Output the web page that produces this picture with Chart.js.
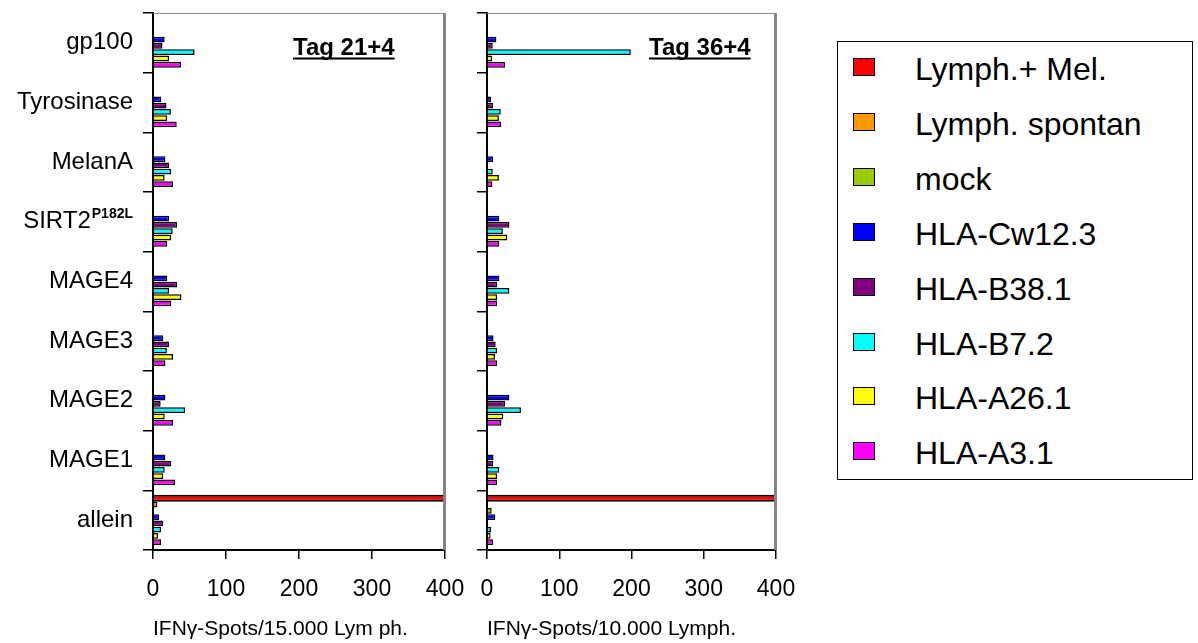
<!DOCTYPE html>
<html>
<head>
<meta charset="utf-8">
<title>IFN-gamma ELISpot</title>
<script src="https://cdn.jsdelivr.net/npm/chart.js@4.4.1/dist/chart.umd.min.js"></script>
<style>
  html, body { margin: 0; padding: 0; background: #fff; }
  body { width: 1198px; height: 643px; position: relative; overflow: hidden;
         font-family: "Liberation Sans", Arial, sans-serif; color: #000; }
  canvas { position: absolute; top: 0; }
  #left { left: 0; }
  #right { left: 466px; }
  #legend { position: absolute; left: 837px; top: 41px; width: 356px; height: 439px;
            border: 1px solid #000; box-sizing: border-box; }
  .sw { position: absolute; left: 15px; width: 22px; height: 18px;
        border: 1.5px solid #000; box-sizing: border-box; }
  .lbl { position: absolute; left: 77px; font-size: 32px; line-height: 36px; white-space: nowrap; }
</style>
</head>
<body>
<canvas id="left" width="466" height="643"></canvas>
<canvas id="right" width="330" height="643"></canvas>
<div id="legend"></div>
<script>
// Antigen categories, top to bottom
const categories = ['gp100', 'Tyrosinase', 'MelanA', 'SIRT2', 'MAGE4', 'MAGE3', 'MAGE2', 'MAGE1', 'allein'];
const categorySup = ['', '', '', 'P182L', '', '', '', '', ''];

// Series (effector / target combinations)
const seriesNames = ['Lymph.+ Mel.', 'Lymph. spontan', 'mock', 'HLA-Cw12.3', 'HLA-B38.1', 'HLA-B7.2', 'HLA-A26.1', 'HLA-A3.1'];
const seriesColors = ['#FF0000', '#FF9900', '#99CC00', '#0000FF', '#800080', '#00FFFF', '#FFFF00', '#FF00FF'];

// Value axis
const xTicks = [0, 100, 200, 300, 400];

// Day 21+4: IFN-gamma spots per 15.000 lymphocytes
const d21LymphMel  = [null, null, null, null, null, null, null, null, 450];
const d21LymphSpon = [null, null, null, null, null, null, null, null, 6];
const d21Mock      = [null, null, null, null, null, null, null, null, 0];
const d21Cw123     = [16, 11, 17, 22, 19.5, 14, 17, 17, 8.5];
const d21B381      = [13, 18.5, 22, 33, 33, 22, 10.5, 25, 14];
const d21B72       = [57, 24.5, 25, 27, 22, 19, 44, 16, 11];
const d21A261      = [22, 19.5, 16, 25, 39, 27.5, 16, 14, 7];
const d21A31       = [38.5, 32.5, 27.5, 19.5, 25, 17, 27.5, 30.5, 11];

// Day 36+4: IFN-gamma spots per 10.000 lymphocytes
const d36LymphMel  = [null, null, null, null, null, null, null, null, 450];
const d36LymphSpon = [null, null, null, null, null, null, null, null, 0];
const d36Mock      = [null, null, null, null, null, null, null, null, 6.5];
const d36Cw123     = [13, 5.5, 8.5, 17, 17, 9, 31, 9, 11.5];
const d36B381      = [8, 8.5, 0, 31, 14, 12, 25, 8.5, 0];
const d36B72       = [199, 19, 8, 22, 31, 14, 47, 17, 5.5];
const d36A261      = [7, 16.5, 16.5, 28, 14, 11, 22.5, 14, 5];
const d36A31       = [25, 19.5, 7.5, 17, 14, 14, 20, 14, 8.5];

const FONT = '"Liberation Sans", Arial, sans-serif';
Chart.defaults.font.family = FONT;
Chart.defaults.color = '#000';

// Grey top and right edge of each plot frame
const framePlugin = {
  id: 'frame',
  afterDatasetsDraw(chart) {
    const a = chart.chartArea, ctx = chart.ctx;
    ctx.save();
    ctx.strokeStyle = '#8c8c8c';
    ctx.lineWidth = 1;
    ctx.beginPath();
    ctx.moveTo(a.left, a.top + 0.5);
    ctx.lineTo(a.right, a.top + 0.5);
    ctx.stroke();
    ctx.lineWidth = 3;
    ctx.strokeStyle = '#858585';
    ctx.beginPath();
    ctx.moveTo(a.right - 0.5, a.top);
    ctx.lineTo(a.right - 0.5, a.bottom);
    ctx.stroke();
    ctx.restore();
  }
};

// Category names (with optional superscript) left of the y axis
const yLabelPlugin = {
  id: 'yLabels',
  afterDraw(chart) {
    const ys = chart.scales.y, ctx = chart.ctx;
    const right = chart.chartArea.left - 20;
    ctx.save();
    ctx.fillStyle = '#000';
    ctx.textBaseline = 'middle';
    ctx.textAlign = 'right';
    categories.forEach((name, i) => {
      const py = ys.getPixelForTick(i);
      let xr = right;
      const sup = categorySup[i];
      if (sup) {
        ctx.font = 'bold 14px ' + FONT;
        ctx.fillText(sup, xr, py - 8);
        xr -= ctx.measureText(sup).width + 1;
      }
      ctx.font = '24px ' + FONT;
      ctx.fillText(name, xr, py);
    });
    ctx.restore();
  }
};

// Underlined panel heading inside the plot
function tagPlugin(text, offsetX) {
  return {
    id: 'tag',
    afterDraw(chart) {
      const a = chart.chartArea, ctx = chart.ctx;
      ctx.save();
      ctx.font = 'bold 24px ' + FONT;
      ctx.fillStyle = '#000';
      ctx.textAlign = 'left';
      ctx.textBaseline = 'alphabetic';
      const x = a.left + offsetX, y = a.top + 42;
      ctx.fillText(text, x, y);
      const w = ctx.measureText(text).width;
      ctx.fillRect(x, y + 2.5, w, 2);
      ctx.restore();
    }
  };
}

function buildPanel(canvasId, values, cfg) {
  const datasets = seriesNames.map((name, i) => ({
    label: name,
    data: values[i],
    backgroundColor: seriesColors[i],
    borderColor: '#000',
    // the stimulated control bar is drawn a little heavier
    borderWidth: i === 0 ? 2 : 1.5,
    categoryPercentage: 0.84,
    barPercentage: i === 0 ? 1.15 : 0.92
  }));
  const plugins = [framePlugin, tagPlugin(cfg.tag, cfg.tagX)];
  if (cfg.showLabels) plugins.push(yLabelPlugin);
  return new Chart(document.getElementById(canvasId), {
    type: 'bar',
    data: { labels: categories, datasets },
    options: {
      indexAxis: 'y',
      responsive: false,
      animation: false,
      events: [],
      layout: { padding: { top: 13, right: cfg.padRight, left: 0, bottom: 0 } },
      plugins: { legend: { display: false }, tooltip: { enabled: false } },
      scales: {
        x: {
          type: 'linear',
          min: xTicks[0],
          max: xTicks[xTicks.length - 1],
          afterBuildTicks: s => { s.ticks = xTicks.map(v => ({ value: v })); },
          afterFit: s => { s.height = 93; },
          // tall line box drops the labels below the tick marks without extra side padding
          ticks: { font: { size: 23, lineHeight: 2.7 }, color: '#000', padding: 0, maxRotation: 0 },
          grid: { drawOnChartArea: false, drawTicks: true, tickLength: 9, color: '#000', lineWidth: 1.5 },
          border: { display: true, color: '#000', width: 2 },
          title: { display: true, text: cfg.xTitle, align: 'start', font: { size: 21 }, color: '#000', padding: { top: 0, bottom: 1 } }
        },
        y: {
          type: 'category',
          z: 1,
          afterFit: s => { s.width = cfg.yWidth; },
          ticks: { display: false },
          grid: { offset: true, drawOnChartArea: false, drawTicks: true, tickLength: 10, color: '#000', lineWidth: 1.5 },
          border: { display: true, color: '#000', width: 2 }
        }
      }
    },
    plugins
  });
}

buildPanel('left',
  [d21LymphMel, d21LymphSpon, d21Mock, d21Cw123, d21B381, d21B72, d21A261, d21A31],
  { tag: 'Tag 21+4', tagX: 140, xTitle: 'IFN\u03b3-Spots/15.000 Lym ph.', yWidth: 153, padRight: 21, showLabels: true });

buildPanel('right',
  [d36LymphMel, d36LymphSpon, d36Mock, d36Cw123, d36B381, d36B72, d36A261, d36A31],
  { tag: 'Tag 36+4', tagX: 162, xTitle: 'IFN\u03b3-Spots/10.000 Lymph.', yWidth: 21, padRight: 20, showLabels: false });

// Legend box
const legend = document.getElementById('legend');
seriesNames.forEach((name, i) => {
  const sw = document.createElement('div');
  sw.className = 'sw';
  sw.style.top = (16 + i * 54.9) + 'px';
  sw.style.background = seriesColors[i];
  legend.appendChild(sw);
  const lbl = document.createElement('div');
  lbl.className = 'lbl';
  lbl.style.top = (9 + i * 54.9) + 'px';
  lbl.textContent = name;
  legend.appendChild(lbl);
});
</script>
</body>
</html>
